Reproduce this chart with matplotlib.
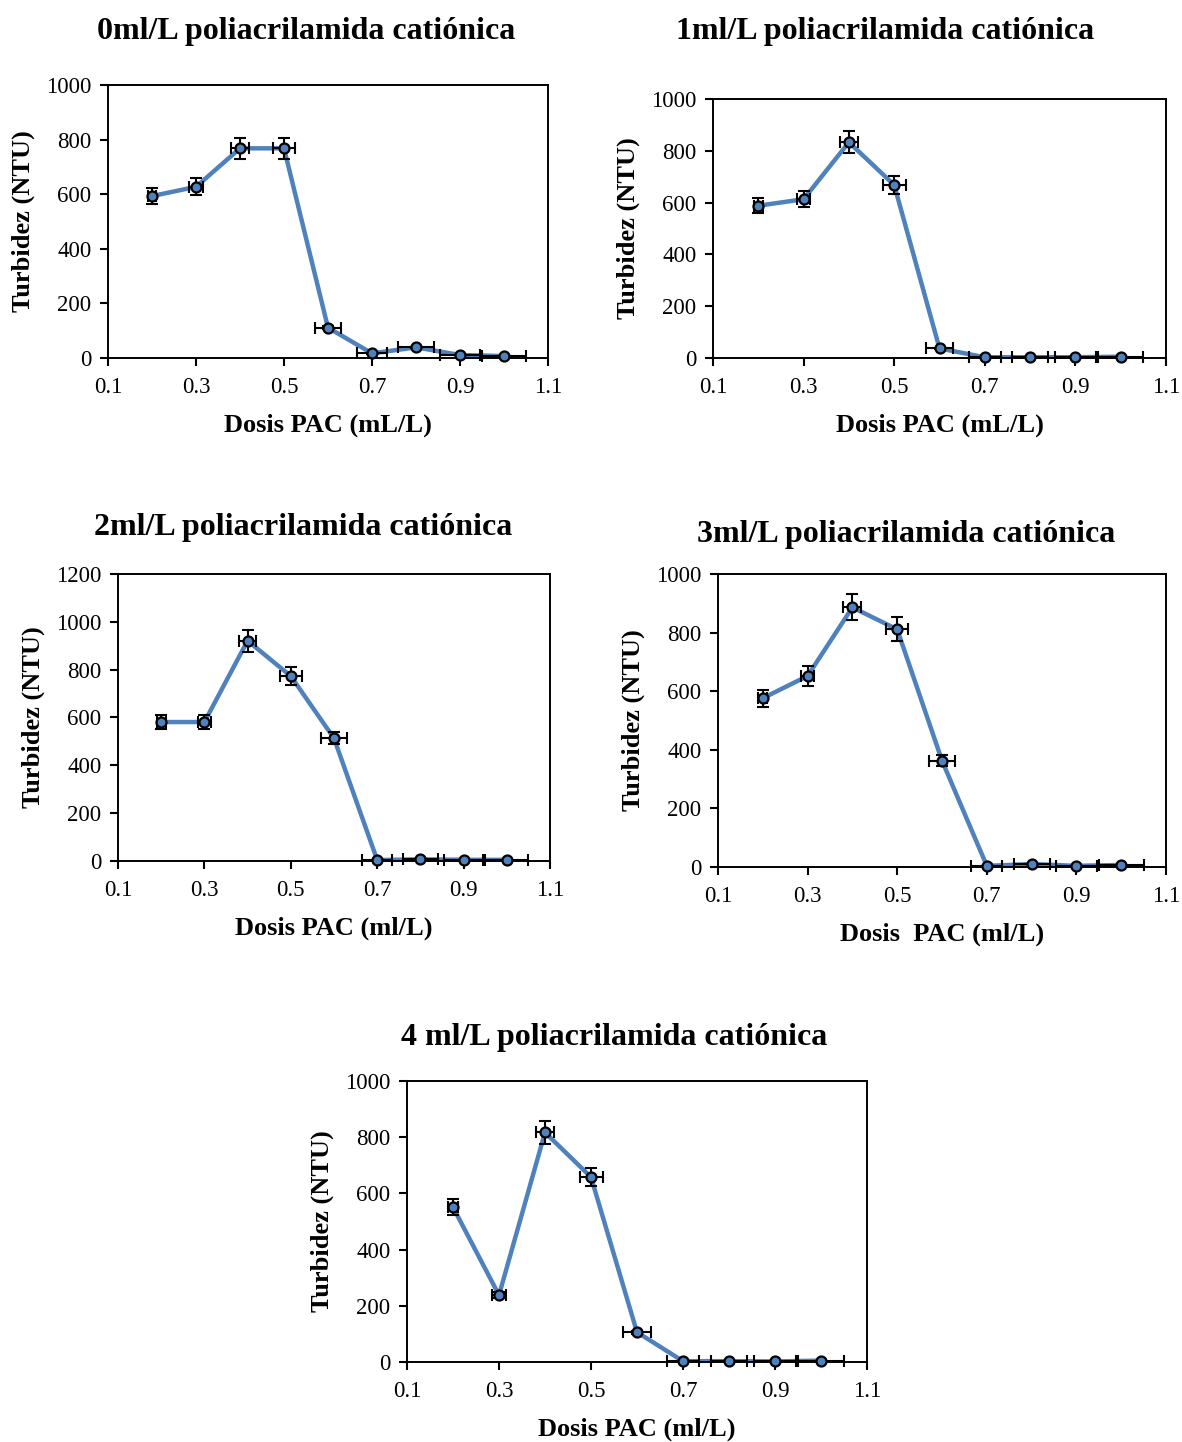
import numpy as np
import matplotlib
matplotlib.use("Agg")
import matplotlib.pyplot as plt

plt.rcParams['font.family'] = ['Liberation Serif', 'DejaVu Serif']

# dosis de PAC (mL/L)
dosis = [0.2, 0.3, 0.4, 0.5, 0.6, 0.7, 0.8, 0.9, 1.0]

# turbidez (NTU) para cada dosis de poliacrilamida cationica
turb_0ml = [593, 627, 768, 768, 111, 17, 39, 11, 7]
turb_1ml = [588, 613, 833, 668, 37, 3, 3, 3, 5]
turb_2ml = [581, 581, 921, 773, 513, 4, 7, 5, 5]
turb_3ml = [576, 652, 886, 811, 363, 4, 10, 4, 7]
turb_4ml = [551, 238, 817, 658, 106, 3, 3, 2, 5]

titulos = ["0ml/L poliacrilamida catiónica",
           "1ml/L poliacrilamida catiónica",
           "2ml/L poliacrilamida catiónica",
           "3ml/L poliacrilamida catiónica",
           "4 ml/L poliacrilamida catiónica"]
xlabels = ["Dosis PAC (mL/L)", "Dosis PAC (mL/L)", "Dosis PAC (ml/L)",
           "Dosis  PAC (ml/L)", "Dosis PAC (ml/L)"]
ymax = [1000, 1000, 1200, 1000, 1000]
xticks = [0.1, 0.3, 0.5, 0.7, 0.9, 1.1]
xticklabels = ["0.1", "0.3", "0.5", "0.7", "0.9", "1.1"]

# barras de error de porcentaje (5%) como en Excel
err_pct = 0.05

W, H = 1182, 1442
# cajas de los ejes en pixeles: izquierda, derecha, arriba, abajo
cajas = [(108, 548, 85, 358),
         (713, 1166, 99, 358),
         (118, 550, 574, 861),
         (718, 1166, 574, 867),
         (407, 867, 1081, 1362)]
# posicion de los titulos (centro x, centro y) en pixeles
pos_titulos = [(306, 32), (885, 32), (303, 527), (906, 534), (614, 1037)]

azul = '#4F81BD'

fig = plt.figure(figsize=(W / 100, H / 100), dpi=100)

series = [turb_0ml, turb_1ml, turb_2ml, turb_3ml, turb_4ml]
for i in range(5):
    l, r, t, b = cajas[i]
    ax = fig.add_axes([l / W, 1 - b / H, (r - l) / W, (b - t) / H])
    y = np.array(series[i])
    x = np.array(dosis)

    ax.plot(x, y, color=azul, lw=3.2, zorder=2)
    ax.errorbar(x, y, xerr=x * err_pct, yerr=y * err_pct, fmt='none',
                ecolor='black', elinewidth=1.5, capsize=4.5, capthick=1.5,
                zorder=3, clip_on=False)
    ax.plot(x, y, 'o', color=azul, markersize=7.2, markeredgecolor='black',
            markeredgewidth=1.6, zorder=4, clip_on=False)

    ax.set_xlim(0.1, 1.1)
    ax.set_ylim(0, ymax[i])
    ax.set_xticks(xticks)
    ax.set_xticklabels(xticklabels)
    ax.set_yticks(np.arange(0, ymax[i] + 1, 200))
    ax.tick_params(direction='out', length=6, width=1.5, labelsize=16.5,
                   pad=6)
    ax.tick_params(axis='x', pad=8)
    for s in ax.spines.values():
        s.set_linewidth(1.4)
    ax.set_xlabel(xlabels[i], fontsize=19, fontweight='bold', labelpad=11)
    ax.set_ylabel("Turbidez (NTU)", fontsize=19, fontweight='bold',
                  labelpad=8)

    tx, ty = pos_titulos[i]
    fig.text(tx / W, 1 - ty / H, titulos[i], fontsize=23, fontweight='bold',
             ha='center', va='center')

fig.savefig('out.png', dpi=100)
